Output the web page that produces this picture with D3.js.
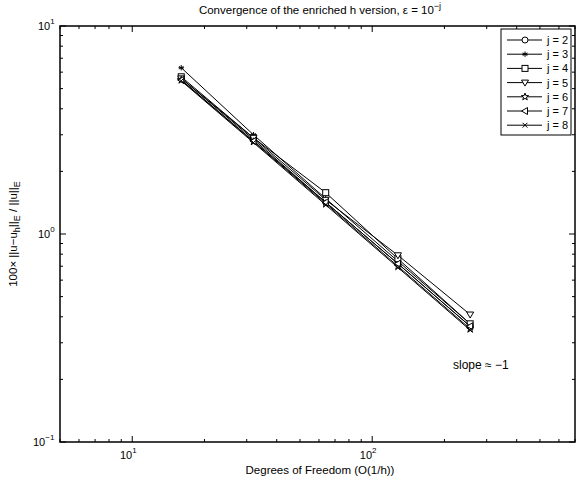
<!DOCTYPE html>
<html>
<head>
<meta charset="utf-8">
<script src="https://cdn.jsdelivr.net/npm/d3@7"></script>
<style>
  body { margin: 0; background: #fff; }
  text { font-family: "Liberation Sans", Arial, sans-serif; fill: #000; }
</style>
</head>
<body>
<div id="chart"></div>
<script>
let width = 576;
let height = 479;
let margin = {top: 26, right: 1, bottom: 37, left: 60};

// degrees of freedom
let dof = [16, 32, 64, 128, 256];
let seriesNames = ["j = 2", "j = 3", "j = 4", "j = 5", "j = 6", "j = 7", "j = 8"];
let symbols = ["circle", "asterisk", "square", "triangleDown", "star", "triangleLeft", "cross"];
let j2 = [5.6, 2.85, 1.42, 0.72, 0.36];
let j3 = [6.3, 3.0, 1.48, 0.74, 0.37];
let j4 = [5.7, 2.9, 1.58, 0.76, 0.37];
let j5 = [5.6, 2.9, 1.46, 0.79, 0.41];
let j6 = [5.5, 2.78, 1.40, 0.70, 0.35];
let j7 = [5.5, 2.8, 1.42, 0.72, 0.36];
let j8 = [5.45, 2.75, 1.38, 0.69, 0.345];
let allSeries = [j2, j3, j4, j5, j6, j7, j8];

let xDomain = [5, 700];
let yDomain = [0.1, 10];
let xMajor = [10, 100];
let yMajor = [0.1, 1, 10];

function chart() {
    let x0 = margin.left, x1 = width - margin.right;
    let y0 = height - margin.bottom, y1 = margin.top;

    xScale = d3.scaleLog().domain(xDomain).range([x0, x1]);
    yScale = d3.scaleLog().domain(yDomain).range([y0, y1]);

    var svg = d3.select("#chart")
        .append("svg")
        .attr("width", width)
        .attr("height", height);

    // minor + major ticks (inward, all sides)
    let xt = xScale.ticks().filter(v => v >= xDomain[0] && v <= xDomain[1]);
    let yt = yScale.ticks();
    let g = svg.append("g").attr("stroke", "#000").attr("stroke-width", 1);
    xt.forEach(v => {
        let len = xMajor.includes(v) ? 6 : 3;
        let px = xScale(v);
        g.append("line").attr("x1", px).attr("x2", px).attr("y1", y0).attr("y2", y0 - len);
        g.append("line").attr("x1", px).attr("x2", px).attr("y1", y1).attr("y2", y1 + len);
    });
    yt.forEach(v => {
        let len = yMajor.includes(v) ? 6 : 3;
        let py = yScale(v);
        g.append("line").attr("y1", py).attr("y2", py).attr("x1", x0).attr("x2", x0 + len);
        g.append("line").attr("y1", py).attr("y2", py).attr("x1", x1).attr("x2", x1 - len);
    });

    svg.append("rect")
        .attr("x", x0).attr("y", y1)
        .attr("width", x1 - x0).attr("height", y0 - y1)
        .attr("fill", "none").attr("stroke", "#000").attr("stroke-width", 1.5);

    // tick labels
    function powLabel(sel, exp) {
        sel.append("tspan").text("10");
        sel.append("tspan").attr("dy", -6).attr("font-size", 8).text(exp);
    }
    xMajor.forEach(v => {
        let t = svg.append("text").attr("x", xScale(v) - 4).attr("y", y0 + 17)
            .attr("font-size", 11).attr("text-anchor", "middle");
        powLabel(t, String(Math.round(Math.log10(v))).replace("-", "\u2212"));
    });
    yMajor.forEach(v => {
        let e = Math.round(Math.log10(v));
        let t = svg.append("text").attr("x", e < 0 ? 33 : 38).attr("y", yScale(v) + 4)
            .attr("font-size", 11);
        powLabel(t, String(e).replace("-", "\u2212"));
    });

    // title
    let title = svg.append("text").attr("x", 320).attr("y", 14)
        .attr("font-size", 11.5).attr("text-anchor", "middle");
    title.append("tspan").text("Convergence of the enriched h version, \u03b5 = 10");
    title.append("tspan").attr("dy", -5).attr("font-size", 9).text("\u2212j");

    // x label
    svg.append("text").attr("x", 320).attr("y", 474)
        .attr("font-size", 11.5).attr("text-anchor", "middle")
        .text("Degrees of Freedom (O(1/h))");

    // y label
    let yl = svg.append("text")
        .attr("transform", "translate(17," + ((y0 + y1) / 2) + ") rotate(-90)")
        .attr("font-size", 11.5).attr("text-anchor", "middle");
    yl.append("tspan").text("100\u00d7 ||u\u2212u");
    yl.append("tspan").attr("dy", 3).attr("font-size", 9).text("h");
    yl.append("tspan").attr("dy", -3).text("||");
    yl.append("tspan").attr("dy", 3).attr("font-size", 9).text("E");
    yl.append("tspan").attr("dy", -3).text(" / ||u||");
    yl.append("tspan").attr("dy", 3).attr("font-size", 9).text("E");

    // slope annotation
    svg.append("text").attr("x", 453).attr("y", 369).attr("font-size", 12)
        .text("slope \u2248 \u22121");

    // lines
    line = d3.line()
        .x(d => xScale(d.x))
        .y(d => yScale(d.y));

    let plot = svg.append("g");
    allSeries.forEach((vals, i) => {
        let data = vals.map((v, k) => ({x: dof[k], y: v}));
        plot.append("path")
            .datum(data)
            .attr("d", line)
            .attr("fill", "none")
            .attr("stroke", "#000")
            .attr("stroke-width", 1);
        data.forEach(d => drawMarker(plot, symbols[i], xScale(d.x), yScale(d.y)));
    });

    // legend
    let lx = 501, ly = 29, lw = 70, lh = 106;
    svg.append("rect").attr("x", lx).attr("y", ly).attr("width", lw).attr("height", lh)
        .attr("fill", "#fff").attr("stroke", "#000").attr("stroke-width", 1);
    seriesNames.forEach((name, i) => {
        let yy = 40 + i * 14.2;
        svg.append("line").attr("x1", 507).attr("x2", 542).attr("y1", yy).attr("y2", yy)
            .attr("stroke", "#000").attr("stroke-width", 1);
        drawMarker(svg, symbols[i], 525, yy);
        svg.append("text").attr("x", 547).attr("y", yy + 4).attr("font-size", 11).text(name);
    });
}

function drawMarker(g, type, cx, cy) {
    let r = 3;
    let s = g.append("g").attr("transform", "translate(" + cx + "," + cy + ")")
        .attr("fill", "#fff").attr("stroke", "#000").attr("stroke-width", 1);
    if (type === "circle") {
        s.append("circle").attr("r", r);
    } else if (type === "square") {
        s.append("rect").attr("x", -r).attr("y", -r).attr("width", 2 * r).attr("height", 2 * r);
    } else if (type === "triangleDown") {
        s.append("path").attr("d", "M" + (-r - 0.5) + "," + (-r + 0.5) + "L" + (r + 0.5) + "," + (-r + 0.5) + "L0," + (r + 0.5) + "Z");
    } else if (type === "triangleLeft") {
        s.append("path").attr("d", "M" + (r - 0.5) + "," + (-r - 0.5) + "L" + (r - 0.5) + "," + (r + 0.5) + "L" + (-r - 0.5) + ",0Z");
    } else if (type === "cross") {
        let c = r * 0.8;
        s.append("path").attr("d", "M" + -c + "," + -c + "L" + c + "," + c + "M" + c + "," + -c + "L" + -c + "," + c);
    } else if (type === "asterisk") {
        let c = r * 0.9;
        let p = "";
        for (let a = 0; a < 3; a++) {
            let t = Math.PI / 2 + a * Math.PI / 3;
            p += "M" + (c * Math.cos(t)) + "," + (c * Math.sin(t)) + "L" + (-c * Math.cos(t)) + "," + (-c * Math.sin(t));
        }
        p += "M" + -c + ",0L" + c + ",0";
        s.append("path").attr("d", p);
    } else if (type === "star") {
        let pts = [];
        for (let k = 0; k < 10; k++) {
            let rr = k % 2 === 0 ? r + 0.8 : (r + 0.8) * 0.4;
            let t = -Math.PI / 2 + k * Math.PI / 5;
            pts.push([rr * Math.cos(t), rr * Math.sin(t)]);
        }
        s.append("path").attr("d", "M" + pts.join("L") + "Z");
    }
}

chart();
</script>
</body>
</html>
